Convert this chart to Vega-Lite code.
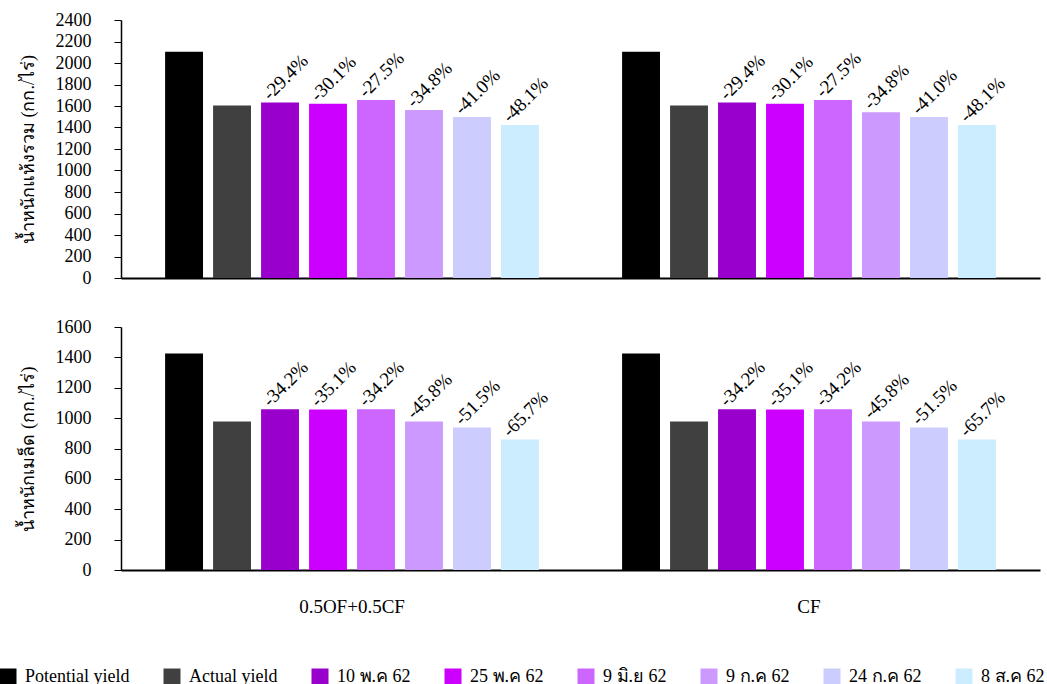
{
  "$schema": "https://vega.github.io/schema/vega-lite/v6.json",
  "background": "white",
  "padding": {"left": -1, "top": 11, "right": 5, "bottom": 0},
  "spacing": 31,
  "config": {
    "view": {"stroke": null},
    "font": "Liberation Serif",
    "axis": {"labelFont": "Liberation Serif", "titleFont": "Liberation Serif", "labelColor": "black", "titleColor": "black", "grid": false, "domainColor": "black", "tickColor": "black"},
    "legend": {"labelFont": "Liberation Serif"},
    "text": {"font": "Liberation Serif"}
  },
  "datasets": {
    "d": [
      {"panel": "dry", "group": "0.5OF+0.5CF", "series": "Potential yield", "value": 2105, "label": ""},
      {"panel": "dry", "group": "0.5OF+0.5CF", "series": "Actual yield", "value": 1605, "label": ""},
      {"panel": "dry", "group": "0.5OF+0.5CF", "series": "10 พ.ค 62", "value": 1632, "label": "-29.4%"},
      {"panel": "dry", "group": "0.5OF+0.5CF", "series": "25 พ.ค 62", "value": 1620, "label": "-30.1%"},
      {"panel": "dry", "group": "0.5OF+0.5CF", "series": "9 มิ.ย 62", "value": 1655, "label": "-27.5%"},
      {"panel": "dry", "group": "0.5OF+0.5CF", "series": "9 ก.ค 62", "value": 1562, "label": "-34.8%"},
      {"panel": "dry", "group": "0.5OF+0.5CF", "series": "24 ก.ค 62", "value": 1497, "label": "-41.0%"},
      {"panel": "dry", "group": "0.5OF+0.5CF", "series": "8 ส.ค 62", "value": 1423, "label": "-48.1%"},
      {"panel": "dry", "group": "CF", "series": "Potential yield", "value": 2105, "label": ""},
      {"panel": "dry", "group": "CF", "series": "Actual yield", "value": 1605, "label": ""},
      {"panel": "dry", "group": "CF", "series": "10 พ.ค 62", "value": 1632, "label": "-29.4%"},
      {"panel": "dry", "group": "CF", "series": "25 พ.ค 62", "value": 1620, "label": "-30.1%"},
      {"panel": "dry", "group": "CF", "series": "9 มิ.ย 62", "value": 1655, "label": "-27.5%"},
      {"panel": "dry", "group": "CF", "series": "9 ก.ค 62", "value": 1543, "label": "-34.8%"},
      {"panel": "dry", "group": "CF", "series": "24 ก.ค 62", "value": 1497, "label": "-41.0%"},
      {"panel": "dry", "group": "CF", "series": "8 ส.ค 62", "value": 1423, "label": "-48.1%"},
      {"panel": "seed", "group": "0.5OF+0.5CF", "series": "Potential yield", "value": 1425, "label": ""},
      {"panel": "seed", "group": "0.5OF+0.5CF", "series": "Actual yield", "value": 978, "label": ""},
      {"panel": "seed", "group": "0.5OF+0.5CF", "series": "10 พ.ค 62", "value": 1059, "label": "-34.2%"},
      {"panel": "seed", "group": "0.5OF+0.5CF", "series": "25 พ.ค 62", "value": 1057, "label": "-35.1%"},
      {"panel": "seed", "group": "0.5OF+0.5CF", "series": "9 มิ.ย 62", "value": 1059, "label": "-34.2%"},
      {"panel": "seed", "group": "0.5OF+0.5CF", "series": "9 ก.ค 62", "value": 978, "label": "-45.8%"},
      {"panel": "seed", "group": "0.5OF+0.5CF", "series": "24 ก.ค 62", "value": 938, "label": "-51.5%"},
      {"panel": "seed", "group": "0.5OF+0.5CF", "series": "8 ส.ค 62", "value": 860, "label": "-65.7%"},
      {"panel": "seed", "group": "CF", "series": "Potential yield", "value": 1425, "label": ""},
      {"panel": "seed", "group": "CF", "series": "Actual yield", "value": 978, "label": ""},
      {"panel": "seed", "group": "CF", "series": "10 พ.ค 62", "value": 1059, "label": "-34.2%"},
      {"panel": "seed", "group": "CF", "series": "25 พ.ค 62", "value": 1057, "label": "-35.1%"},
      {"panel": "seed", "group": "CF", "series": "9 มิ.ย 62", "value": 1059, "label": "-34.2%"},
      {"panel": "seed", "group": "CF", "series": "9 ก.ค 62", "value": 978, "label": "-45.8%"},
      {"panel": "seed", "group": "CF", "series": "24 ก.ค 62", "value": 938, "label": "-51.5%"},
      {"panel": "seed", "group": "CF", "series": "8 ส.ค 62", "value": 860, "label": "-65.7%"}
    ]
  },
  "vconcat": [
    {
      "width": 919,
      "height": 258,
      "data": {"name": "d"},
      "transform": [{"filter": "datum.panel == 'dry'"}],
      "encoding": {
        "x": {"field": "group", "type": "nominal", "sort": ["0.5OF+0.5CF", "CF"], "scale": {"paddingInner": 0.182, "paddingOuter": 0.0965}, "axis": {"labels": false, "ticks": false, "tickSize": 0, "title": null, "domainWidth": 2}},
        "xOffset": {"field": "series", "type": "nominal", "sort": ["Potential yield", "Actual yield", "10 พ.ค 62", "25 พ.ค 62", "9 มิ.ย 62", "9 ก.ค 62", "24 ก.ค 62", "8 ส.ค 62"], "scale": {"paddingInner": 0.21, "paddingOuter": 0}},
        "y": {"field": "value", "type": "quantitative", "scale": {"domain": [0, 2400], "nice": false}, "axis": {"values": [0, 200, 400, 600, 800, 1000, 1200, 1400, 1600, 1800, 2000, 2200, 2400], "format": "d", "title": "น้ำหนักแห้งรวม (กก./ไร่)", "titleFontSize": 18, "titleFontWeight": "normal", "titlePadding": 18, "labelFontSize": 18, "labelPadding": 23, "tickSize": 7, "domainWidth": 1.5}}
      },
      "layer": [
        {
          "mark": {"type": "bar"},
          "encoding": {
            "color": {"field": "series", "type": "nominal", "sort": ["Potential yield", "Actual yield", "10 พ.ค 62", "25 พ.ค 62", "9 มิ.ย 62", "9 ก.ค 62", "24 ก.ค 62", "8 ส.ค 62"], "scale": {"domain": ["Potential yield", "Actual yield", "10 พ.ค 62", "25 พ.ค 62", "9 มิ.ย 62", "9 ก.ค 62", "24 ก.ค 62", "8 ส.ค 62"], "range": ["#000000", "#404040", "#9900CC", "#CC00FF", "#CC66FF", "#CC99FF", "#CCCCFF", "#CCECFF"]}, "legend": {"orient": "none", "legendX": -122, "legendY": 648, "direction": "horizontal", "title": null, "symbolType": "square", "symbolSize": 289, "symbolStrokeWidth": 0, "symbolOpacity": 1, "labelFont": "Liberation Serif", "labelFontSize": 18, "labelColor": "black", "labelOffset": 8, "columnPadding": 33}}
          }
        },
        {
          "mark": {"type": "text", "angle": -45, "align": "left", "baseline": "middle", "dx": -6, "dy": -14, "fontSize": 19, "font": "Liberation Serif", "color": "black"},
          "encoding": {"text": {"field": "label"}}
        }
      ]
    },
    {
      "width": 919,
      "height": 243,
      "data": {"name": "d"},
      "transform": [{"filter": "datum.panel == 'seed'"}],
      "encoding": {
        "x": {"field": "group", "type": "nominal", "sort": ["0.5OF+0.5CF", "CF"], "scale": {"paddingInner": 0.182, "paddingOuter": 0.0965}, "axis": {"labelAngle": 0, "labelFontSize": 19, "labelPadding": 27, "ticks": false, "tickSize": 0, "title": null, "domainWidth": 2}},
        "xOffset": {"field": "series", "type": "nominal", "sort": ["Potential yield", "Actual yield", "10 พ.ค 62", "25 พ.ค 62", "9 มิ.ย 62", "9 ก.ค 62", "24 ก.ค 62", "8 ส.ค 62"], "scale": {"paddingInner": 0.21, "paddingOuter": 0}},
        "y": {"field": "value", "type": "quantitative", "scale": {"domain": [0, 1600], "nice": false}, "axis": {"values": [0, 200, 400, 600, 800, 1000, 1200, 1400, 1600], "format": "d", "title": "น้ำหนักเมล็ด (กก./ไร่)", "titleFontSize": 18, "titleFontWeight": "normal", "titlePadding": 18, "labelFontSize": 18, "labelPadding": 23, "tickSize": 7, "domainWidth": 1.5}}
      },
      "layer": [
        {
          "mark": {"type": "bar"},
          "encoding": {
            "color": {"field": "series", "type": "nominal", "sort": ["Potential yield", "Actual yield", "10 พ.ค 62", "25 พ.ค 62", "9 มิ.ย 62", "9 ก.ค 62", "24 ก.ค 62", "8 ส.ค 62"]}
          }
        },
        {
          "mark": {"type": "text", "angle": -45, "align": "left", "baseline": "middle", "dx": -6, "dy": -14, "fontSize": 19, "font": "Liberation Serif", "color": "black"},
          "encoding": {"text": {"field": "label"}}
        }
      ]
    }
  ]
}
